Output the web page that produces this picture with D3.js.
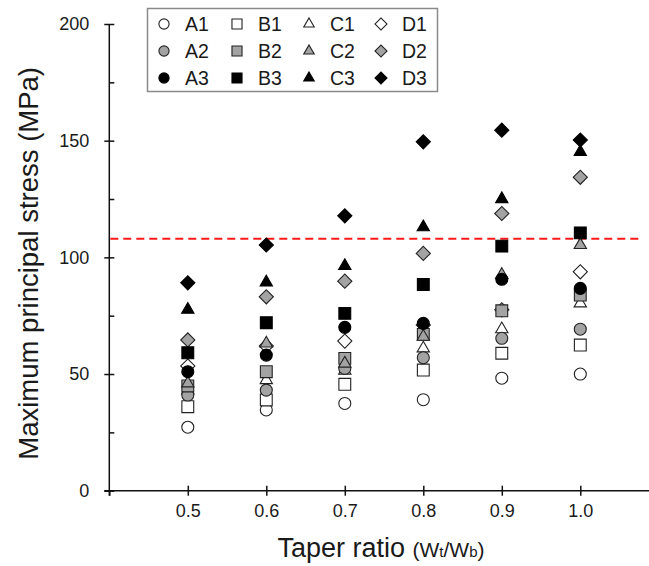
<!DOCTYPE html>
<html>

<head>
    <meta charset="utf-8">
    <script src="https://d3js.org/d3.v7.min.js"></script>
    <style>
        body {
            margin: 0;
            background: #fff;
            overflow: hidden;
        }

        #chart svg text {
            font-family: "Liberation Sans", Arial, sans-serif;
            fill: #1a1a1a;
        }

        #chart .axis path,
        #chart .axis line {
            stroke: #111;
            stroke-width: 1.5;
        }
    </style>
</head>

<body>
    <div id="chart"></div>
    <script>
        // taper ratios on the x axis
        var ratios = [0.5, 0.6, 0.7, 0.8, 0.9, 1.0];

        // maximum principal stress (MPa) per model, one value per ratio
        var A1 = [27.2, 34.6, 37.4, 39.0, 48.2, 50.0];
        var A2 = [41.0, 43.1, 52.4, 57.0, 65.3, 69.2];
        var A3 = [51.0, 58.1, 70.0, 71.7, 90.6, 86.7];
        var B1 = [36.0, 38.9, 45.6, 51.7, 58.9, 62.4];
        var B2 = [44.9, 51.0, 56.7, 67.0, 77.1, 83.8];
        var B3 = [59.1, 72.0, 76.0, 88.4, 104.8, 110.5];
        var C1 = [43.0, 47.4, 51.5, 61.0, 69.2, 80.3];
        var C2 = [46.0, 63.1, 54.5, 66.0, 92.5, 105.3];
        var C3 = [77.6, 89.3, 96.3, 112.9, 125.0, 145.2];
        var D1 = [53.4, 62.0, 64.1, 71.0, 77.5, 93.8];
        var D2 = [64.6, 83.1, 89.8, 101.7, 118.8, 134.3];
        var D3 = [89.1, 105.3, 117.8, 149.5, 154.5, 150.3];

        var seriesNames = ["A1", "B1", "C1", "D1", "A2", "B2", "C2", "D2", "A3", "B3", "C3", "D3"];
        var seriesValues = [A1, B1, C1, D1, A2, B2, C2, D2, A3, B3, C3, D3];

        var threshold = [108];

        var xTicks = [0.4, 0.5, 0.6, 0.7, 0.8, 0.9, 1.0];
        var yTicks = [0, 50, 100, 150, 200];
        var yMinorTicks = [0, 25, 50, 75, 100, 125, 150, 175, 200];

        var width = 649;
        var height = 566;

        var fills = { "1": "#ffffff", "2": "#a3a3a3", "3": "#000000" };
        var shapes = { A: "circle", B: "square", C: "triangle", D: "diamond" };

        var x = d3.scaleLinear().domain([0.4, 1.1]).range([109.3, 658.8]);
        var y = d3.scaleLinear().domain([0, 200]).range([490.7, 24]);

        var svg = d3.select("#chart").append("svg")
            .attr("width", width)
            .attr("height", height);

        // Axes
        var xAxis = svg.append("g").attr("class", "axis")
            .attr("transform", `translate(0,${y(0)})`)
            .call(d3.axisBottom(x).tickValues(xTicks).tickSize(5).tickPadding(9)
                .tickFormat(d => d < 0.45 ? "" : d3.format(".1f")(d)));
        xAxis.select(".domain").attr("d", `M${x(0.4) - 5},0H${x(1.1)}`);
        xAxis.selectAll("text").attr("font-size", 18);

        svg.append("g").attr("class", "axis")
            .attr("transform", `translate(0,${y(0)})`)
            .call(d3.axisTop(x).tickValues(xTicks.slice(1)).tickSize(5).tickFormat(""))
            .select(".domain").remove();

        var yAxis = svg.append("g").attr("class", "axis")
            .attr("transform", `translate(${x(0.4)},0)`)
            .call(d3.axisLeft(y).tickValues(yTicks).tickSize(5).tickPadding(15));
        yAxis.select(".domain").attr("d", `M0,${y(200)}V${y(0) + 5}`);
        yAxis.selectAll("text").attr("font-size", 18);

        svg.append("g").attr("class", "axis")
            .attr("transform", `translate(${x(0.4)},0)`)
            .call(d3.axisRight(y).tickValues(yMinorTicks).tickSize(5).tickFormat(""))
            .select(".domain").remove();

        // Threshold
        svg.append("g").selectAll("line")
            .data(threshold)
            .join("line")
            .attr("x1", x(0.4) + 1)
            .attr("x2", x(1.076))
            .attr("y1", d => y(d))
            .attr("y2", d => y(d))
            .attr("stroke", "#ff1a1a")
            .attr("stroke-width", 2)
            .attr("stroke-dasharray", "8,5");

        // Markers
        function symbolPath(name, scale) {
            var shape = shapes[name[0]];
            var type = d3.symbolCircle, size = 113;
            if (shape == "square") { type = d3.symbolSquare; size = 140; }
            if (shape == "triangle") { type = d3.symbolTriangle; size = 66; }
            if (shape == "diamond") { type = d3.symbolSquare; size = 100; }
            return d3.symbol().type(type).size(size * scale * scale)();
        }

        function symbolTransform(name, px, py) {
            var rot = shapes[name[0]] == "diamond" ? " rotate(45)" : "";
            return `translate(${px},${py})${rot}`;
        }

        var points = [];
        seriesNames.forEach((name, i) => {
            ratios.forEach((r, j) => {
                points.push({ name: name, ratio: r, value: seriesValues[i][j] });
            });
        });

        svg.append("g").selectAll("path")
            .data(points)
            .join("path")
            .attr("d", d => symbolPath(d.name, 1))
            .attr("transform", d => symbolTransform(d.name, x(d.ratio), y(d.value)))
            .attr("fill", d => fills[d.name[1]])
            .attr("stroke", d => d.name[1] == "3" ? "#000" : "#222")
            .attr("stroke-width", 1.1);

        // Legend
        var legendCols = [164, 237, 309, 381];
        var legendRows = [24, 51, 78];

        svg.append("rect")
            .attr("x", 147.5)
            .attr("y", 8.5)
            .attr("width", 290)
            .attr("height", 83)
            .attr("fill", "#fff")
            .attr("stroke", "#8a8a8a")
            .attr("stroke-width", 1.5);

        var legend = svg.append("g").selectAll("g")
            .data(seriesNames)
            .join("g")
            .attr("transform", d => `translate(${legendCols["ABCD".indexOf(d[0])]},${legendRows[+d[1] - 1]})`);

        legend.append("path")
            .attr("d", d => symbolPath(d, 0.85))
            .attr("transform", d => symbolTransform(d, 0, 0))
            .attr("fill", d => fills[d[1]])
            .attr("stroke", d => d[1] == "3" ? "#000" : "#222")
            .attr("stroke-width", 1.1);

        legend.append("text")
            .attr("x", 21)
            .attr("y", 7)
            .attr("font-size", 19.5)
            .text(d => d);

        // Axis titles
        svg.append("text")
            .attr("transform", `translate(38,${y(100) + 6}) rotate(-90)`)
            .attr("text-anchor", "middle")
            .attr("font-size", 27.5)
            .text("Maximum principal stress (MPa)");

        var xTitle = svg.append("text")
            .attr("x", 381)
            .attr("y", 557)
            .attr("text-anchor", "middle")
            .attr("font-size", 27);
        xTitle.append("tspan").text("Taper ratio ");
        xTitle.append("tspan").attr("font-size", 21).text("(W");
        xTitle.append("tspan").attr("font-size", 15).text("t");
        xTitle.append("tspan").attr("font-size", 21).text("/W");
        xTitle.append("tspan").attr("font-size", 15).text("b");
        xTitle.append("tspan").attr("font-size", 21).text(")");
    </script>
</body>

</html>
